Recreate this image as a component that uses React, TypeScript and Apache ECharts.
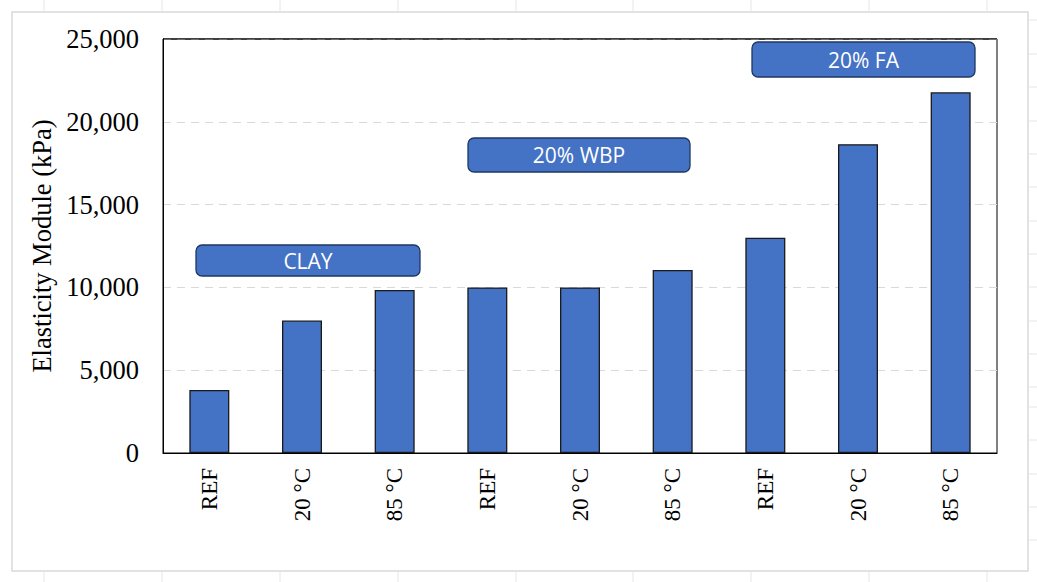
import React, { useEffect, useRef } from "react";
import * as echarts from "echarts";

const categories = ["REF", "20 °C", "85 °C", "REF", "20 °C", "85 °C", "REF", "20 °C", "85 °C"];
const values = [3800, 8000, 9850, 10000, 10000, 11050, 13000, 18650, 21780];
const groupLabels = ["CLAY", "20% WBP", "20% FA"];
const yTicks = [0, 5000, 10000, 15000, 20000, 25000];

export default function App() {
  const ref = useRef<HTMLDivElement>(null);
  useEffect(() => {
    if (!ref.current) return;
    const chart = echarts.init(ref.current, undefined, { renderer: "svg" });
    const boxes = [
      { x: 196, y: 245, w: 224, h: 31 },
      { x: 468, y: 138, w: 222, h: 34 },
      { x: 752, y: 42, w: 223, h: 35 },
    ];
    const colX = [44, 162, 280, 398, 516, 633, 751, 869, 987];
    const gridLines: any[] = [];
    colX.forEach((x) => {
      gridLines.push({ type: "line", shape: { x1: x, y1: 0, x2: x, y2: 11 }, style: { stroke: "#e6e6e6", lineWidth: 1 }, silent: true });
      gridLines.push({ type: "line", shape: { x1: x, y1: 572, x2: x, y2: 582 }, style: { stroke: "#e6e6e6", lineWidth: 1 }, silent: true });
    });
    [20, 54, 87, 121, 154, 187, 221, 254, 287, 321, 354, 387, 407, 440, 474, 507, 540].forEach((y) => {
      gridLines.push({ type: "line", shape: { x1: 1029, y1: y, x2: 1037, y2: y }, style: { stroke: "#e6e6e6", lineWidth: 1 }, silent: true });
    });
    chart.setOption({
      animation: false,
      backgroundColor: "#ffffff",
      grid: {
        left: 163,
        right: 40,
        top: 39,
        bottom: 129,
        show: true,
        borderColor: "#000000",
        borderWidth: 1,
        backgroundColor: "transparent",
      },
      xAxis: {
        type: "category",
        data: categories,
        axisLine: { show: true, lineStyle: { color: "#000", width: 1 } },
        axisTick: { show: false },
        axisLabel: {
          rotate: 90,
          margin: 15,
          fontFamily: "Liberation Serif",
          fontSize: 23,
          color: "#000",
          interval: 0,
        },
      },
      yAxis: {
        type: "value",
        min: 0,
        max: 25000,
        interval: 5000,
        name: "Elasticity Module (kPa)",
        nameLocation: "middle",
        nameGap: 104,
        nameTextStyle: { fontFamily: "Liberation Serif", fontSize: 26.5, color: "#000" },
        axisLine: { show: true, lineStyle: { color: "#000", width: 1 } },
        axisTick: { show: false },
        axisLabel: {
          margin: 24,
          fontFamily: "Liberation Serif",
          fontSize: 26.5,
          color: "#000",
          formatter: (v: number) => (yTicks.includes(v) ? v.toLocaleString("en-US") : ""),
        },
        splitLine: { show: true, lineStyle: { color: "#d9d9d9", type: [8, 6], width: 1.2 } },
      },
      series: [
        {
          type: "bar",
          data: values,
          barWidth: 40,
          itemStyle: { color: "#4472c4", borderColor: "#1a1a1a", borderWidth: 1.3 },
        },
      ],
      graphic: [
        {
          type: "rect",
          shape: { x: 12, y: 12, width: 1016, height: 559 },
          style: { fill: "none", stroke: "#d9d9d9", lineWidth: 1.5 },
          silent: true,
        },
        {
          type: "line",
          z: 100,
          shape: { x1: 163, y1: 39, x2: 997, y2: 39 },
          style: { stroke: "#000", lineWidth: 1.2 },
          silent: true,
        },
        ...gridLines,
        ...boxes.map((b, i) => ({
          type: "group",
          children: [
            {
              type: "rect",
              shape: { x: b.x, y: b.y, width: b.w, height: b.h, r: 6 },
              style: { fill: "#4472c4", stroke: "#1f3763", lineWidth: 1.3 },
            },
            {
              type: "text",
              x: b.x + b.w / 2,
              y: b.y + b.h / 2,
              style: {
                text: groupLabels[i],
                fill: "#ffffff",
                font: "21px 'Open Sans'",
                align: "center",
                verticalAlign: "middle",
              },
            },
          ],
        })),
      ],
    });
    return () => chart.dispose();
  }, []);
  return <div ref={ref} style={{ position: "fixed", left: 0, top: 0, width: 1037, height: 582 }} />;
}
